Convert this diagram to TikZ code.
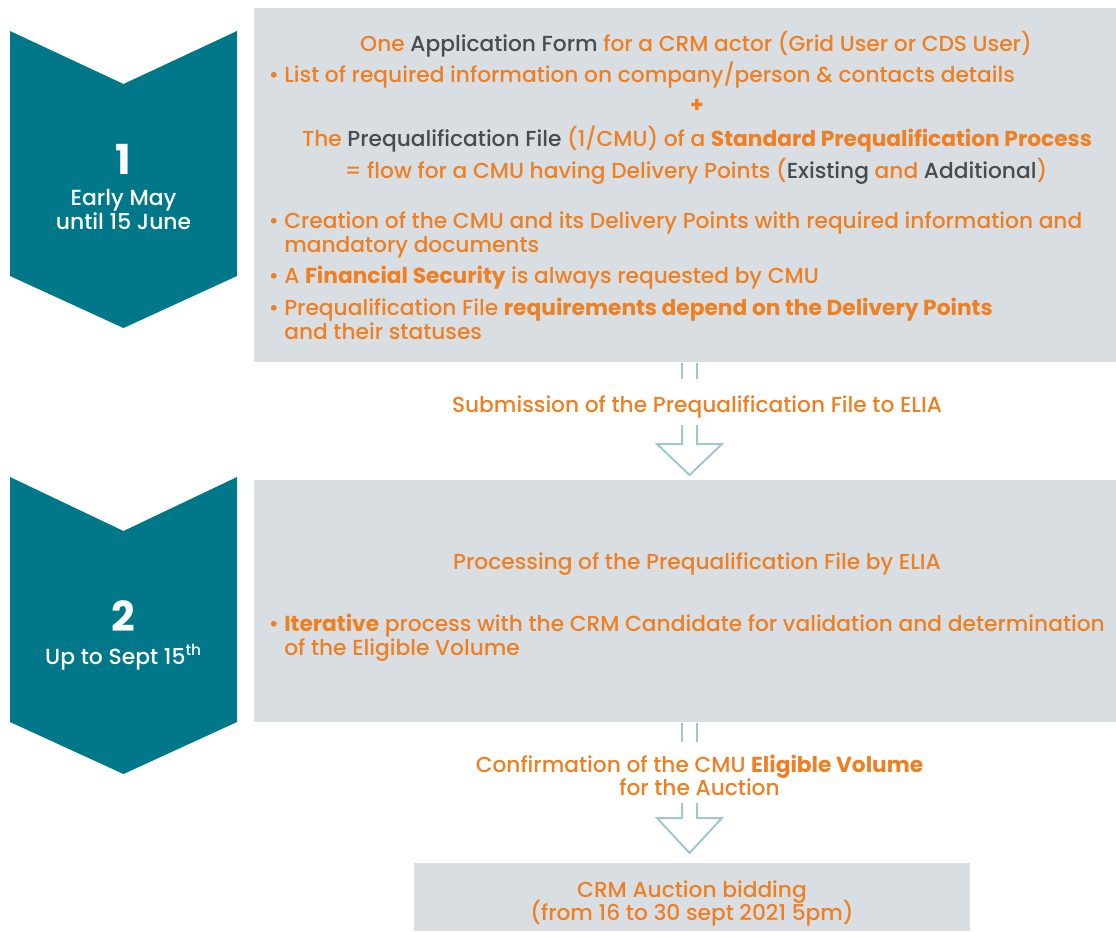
\documentclass[tikz,border=0pt]{standalone}
\usepackage{fontspec}
\setmainfont{Poppins Medium}[BoldFont=Poppins Bold]
\usetikzlibrary{positioning,calc}

\definecolor{eliaorange}{HTML}{EE7F22}
\definecolor{eliagrey}{HTML}{474C52}
\definecolor{eliateal}{HTML}{00788A}
\definecolor{boxgrey}{HTML}{D9DEE2}
\definecolor{arrowblue}{HTML}{A0C6D0}

\newcommand{\greytxt}[1]{\textcolor{eliagrey}{#1}}
\newcommand{\boldtxt}[1]{\textbf{#1}}
\newcommand{\bul}{\makebox[9pt][l]{\hspace{-2.5pt}\textbullet}}

\begin{document}
\begin{tikzpicture}[x=0.75pt, y=-0.75pt,
	phasebox/.style={fill=boxgrey, anchor=north west, inner sep=0pt},
	chevron/.style={fill=eliateal},
	txt/.style={anchor=base west, inner sep=0pt, text=eliaorange, font=\fontsize{16.3}{18}\selectfont},
	ctxt/.style={txt, anchor=base},
	steplabel/.style={anchor=base, inner sep=0pt, text=white, font=\fontsize{16.4}{18}\selectfont},
	stepnum/.style={steplabel, font=\fontsize{31}{36}\selectfont\bfseries},
	flowline/.style={draw=arrowblue, line width=1.5pt, line join=miter}]

	\useasboundingbox (0,0) rectangle (1116,931);

	% Boxes {prep, check, auction}
	\node [phasebox, minimum width=646.5pt, minimum height=265.5pt] (prep)    at (254,8)   {};
	\node [phasebox, minimum width=646.5pt, minimum height=181.5pt] (check)   at (254,480) {};
	\node [phasebox, minimum width=417pt,   minimum height=51pt]    (auction) at (414,863) {};

	% Chevrons
	\fill [chevron] (10,31) -- (123.5,84) -- (237,31) -- (237,276) -- (123.5,328) -- (10,276) -- cycle;
	\fill [chevron] (10,477) -- (123.5,531) -- (237,477) -- (237,722) -- (123.5,774) -- (10,722) -- cycle;

	\node [stepnum]   (num1)  at (123.5,174) {1};
	\node [steplabel] (date1) at (123.5,205) {Early May};
	\node [steplabel] (date1b) at (123.5,229) {until 15 June};
	\node [stepnum]   (num2)  at (123.5,631) {2};
	\node [steplabel] (date2) at (123.5,664) {Up to Sept 15\textsuperscript{th}};

	% Texts of the first box
	\node [ctxt] (form)   at (696,52)  {One \greytxt{Application Form} for a CRM actor (Grid User or CDS User)};
	\node [txt]  (list)   at (272,83)  {\bul List of required information on company/person \& contacts details};
	\node [ctxt] (plus)   at (697,113) {\boldtxt{+}};
	\node [ctxt] (file)   at (697,146) {The \greytxt{Prequalification File} (1/CMU) of a \boldtxt{Standard Prequalification Process}};
	\node [ctxt] (flow)   at (696,178) {= flow for a CMU having Delivery Points (\greytxt{Existing} and \greytxt{Additional})};
	\node [txt]  (create) at (272,228) {\bul Creation of the CMU and its Delivery Points with required information and};
	\node [txt]  (createb) at (284,252) {mandatory documents};
	\node [txt]  (secu)   at (272,283) {\bul A \boldtxt{Financial Security} is always requested by CMU};
	\node [txt]  (req)    at (272,315) {\bul Prequalification File \boldtxt{requirements depend on the Delivery Points}};
	\node [txt]  (reqb)   at (284,339) {and their statuses};

	% Texts of the second box
	\node [ctxt] (proc)   at (697,569) {Processing of the Prequalification File by ELIA};
	\node [txt]  (iter)   at (272,631) {\bul \boldtxt{Iterative} process with the CRM Candidate for validation and determination};
	\node [txt]  (iterb)  at (284,655) {of the Eligible Volume};

	% Labels on the arrows
	\node [ctxt] (submit) at (697,412) {Submission of the Prequalification File to ELIA};
	\node [ctxt] (confirm)  at (699.5,772) {Confirmation of the CMU \boldtxt{Eligible Volume}};
	\node [ctxt] (confirmb) at (699.5,795) {for the Auction};

	% Auction box
	\node [ctxt] (bid)  at (692,897) {CRM Auction bidding};
	\node [ctxt] (bidb) at (692,920) {(from 16 to 30 sept 2021 5pm)};

	% Arrows
	\coordinate (arr1) at (689.5,0);
	\draw [flowline] ($(arr1|-prep.south)+(-7.5,0)$) -- ++(0,16);
	\draw [flowline] ($(arr1|-prep.south)+(7.5,0)$) -- ++(0,16);
	\draw [flowline] ($(arr1|-submit.base)+(-7.5,13)$) -- ++(0,19) -- ++(-25,0)
		-- ($(arr1|-check.north)+(0,-5)$) -- ($(arr1|-submit.base)+(32.5,32)$) -- ++(-25,0) -- ++(0,-19);

	\draw [flowline] ($(arr1|-check.south)+(-7.5,0)$) -- ++(0,19);
	\draw [flowline] ($(arr1|-check.south)+(7.5,0)$) -- ++(0,19);
	\draw [flowline] ($(arr1|-confirmb.base)+(-7.5,8)$) -- ++(0,15) -- ++(-25,0)
		-- ($(arr1|-auction.north)+(0,-10)$) -- ($(arr1|-confirmb.base)+(32.5,23)$) -- ++(-25,0) -- ++(0,-15);

\end{tikzpicture}
\end{document}
